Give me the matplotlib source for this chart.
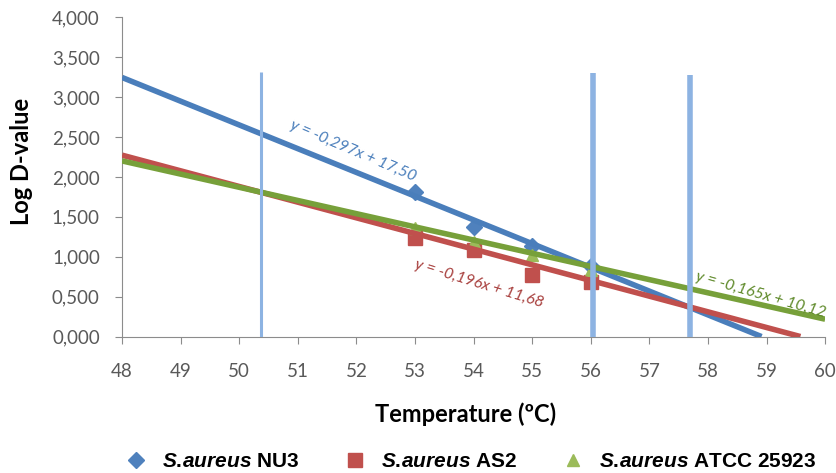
import numpy as np
import matplotlib
matplotlib.use("Agg")
import matplotlib.pyplot as plt
from matplotlib.ticker import FuncFormatter, MultipleLocator

plt.rcParams['mathtext.fontset'] = 'custom'
plt.rcParams['mathtext.it'] = 'Liberation Sans:italic:bold'
plt.rcParams['mathtext.rm'] = 'Liberation Sans:bold'

temps = [53, 54, 55, 56]
nu3 = [1.81, 1.37, 1.14, 0.88]
as2 = [1.24, 1.09, 0.77, 0.69]
atcc = [1.36, 1.18, 1.02, 0.83]

# trendline coefficients (slope, intercept) as printed on the chart
slopes = [-0.297, -0.196, -0.165]
intercepts = [17.50, 11.68, 10.12]
eq_labels = ["y = -0,297x + 17,50", "y = -0,196x + 11,68", "y = -0,165x + 10,12"]
eq_pos = [(51.95, 2.33), (54.1, 0.66), (58.9, 0.53)]
eq_rot = [-23, -17, -16]

vline_x = [50.37, 56.03, 57.7]
vline_top = [3.31, 3.30, 3.27]
vline_w = [2.2, 4, 4]

names = ["NU3", "AS2", "ATCC 25923"]
marker_cols = ['#4f81bd', '#c0504d', '#9bbb59']
line_cols = ['#4a7ebb', '#c0504d', '#77a03a']
text_cols = ['#4a7ebb', '#a8403e', '#5f8a2a']
markers = ['D', 's', '^']
msizes = [8, 10, 9]

fig = plt.figure(figsize=(8.36, 4.73), dpi=100)
ax = fig.add_axes([0.146, 0.288, 0.841, 0.676])

series = [nu3, as2, atcc]
handles = []
for i in range(3):
    h, = ax.plot(temps, series[i], linestyle='none', marker=markers[i],
                 markersize=msizes[i], color=marker_cols[i], zorder=3)
    handles.append(h)
    xx = np.linspace(48, 60, 200)
    yy = slopes[i] * xx + intercepts[i]
    ax.plot(xx[yy >= 0], yy[yy >= 0], color=line_cols[i], lw=4, zorder=4,
            solid_capstyle='butt')
    ax.text(eq_pos[i][0], eq_pos[i][1], eq_labels[i], color=text_cols[i],
            rotation=eq_rot[i], ha='center', va='center', fontsize=11.5,
            style='italic', family='Lato', rotation_mode='anchor', zorder=6)

for i in range(3):
    ax.plot([vline_x[i], vline_x[i]], [0, vline_top[i]], color='#8db3e2',
            lw=vline_w[i], zorder=5, solid_capstyle='butt')

ax.set_xlim(48, 60)
ax.set_ylim(0, 4)
ax.xaxis.set_major_locator(MultipleLocator(1))
ax.yaxis.set_major_locator(MultipleLocator(0.5))
ax.yaxis.set_major_formatter(FuncFormatter(lambda v, p: f"{v:.3f}".replace('.', ',')))
for s in ['top', 'right']:
    ax.spines[s].set_visible(False)
for s in ['left', 'bottom']:
    ax.spines[s].set_color('#8c8c8c')
ax.tick_params(direction='out', length=5, color='#8c8c8c', labelcolor='#595959',
               labelsize=13.5)
for lab in ax.get_xticklabels() + ax.get_yticklabels():
    lab.set_family('Lato')
ax.tick_params(axis='x', pad=14)
ax.tick_params(axis='y', pad=11)

ax.set_xlabel("Temperature (ºC)", fontsize=17, fontweight='bold', family='Lato')
ax.set_ylabel("Log D-value", fontsize=17, fontweight='bold', family='Lato')
ax.xaxis.set_label_coords(0.489, -0.205)
ax.yaxis.set_label_coords(-0.127, 0.547)

labels = [r"$\mathit{S.\!aureus}$ " + n for n in names]
leg = fig.legend(handles, labels, loc='center', bbox_to_anchor=(0.56, 0.024),
                 ncol=3, frameon=False, columnspacing=1.9, handlelength=1.5,
                 handletextpad=0.5,
                 prop={'family': 'Liberation Sans', 'weight': 'bold', 'size': 15})

fig.savefig("out.png", dpi=100)
